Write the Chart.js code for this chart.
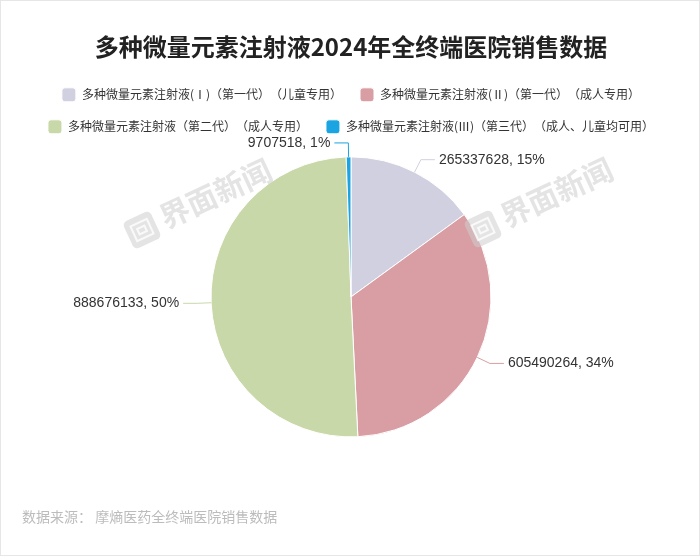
<!DOCTYPE html>
<html>
<head>
<meta charset="utf-8">
<script src="https://cdn.jsdelivr.net/npm/chart.js@4/dist/chart.umd.min.js"></script>
<style>
body { margin:0; background:#fff; }
#wrap { position:relative; width:700px; height:556px; }
canvas { text-spacing-trim: space-all; }
#frame { position:absolute; left:0; top:0; width:700px; height:556px; box-sizing:border-box; border:1px solid #e6e6e6; pointer-events:none; }
#src { position:absolute; left:22px; top:506px; font:14px "Noto Sans CJK SC", sans-serif; color:#bcbcbc; text-spacing-trim: space-all; }
</style>
</head>
<body>
<div id="wrap">
<canvas id="myChart" width="700" height="556"></canvas>
<div id="frame"></div>
<div id="src">数据来源： 摩熵医药全终端医院销售数据</div>
</div>
<script>
var titleText = '多种微量元素注射液2024年全终端医院销售数据';
var products = ['多种微量元素注射液(Ⅰ)（第一代）（儿童专用）', '多种微量元素注射液(Ⅱ)（第一代）（成人专用）', '多种微量元素注射液（第二代）（成人专用）', '多种微量元素注射液(Ⅲ)（第三代）（成人、儿童均可用）'];
var sales = [265337628, 605490264, 888676133, 9707518];
var colors = ['#d1d0e0', '#d99ea4', '#c9d8a8', '#1ba4e2'];
var cjk = '"Noto Sans CJK SC", sans-serif';

// labels with leader lines outside the pie
var sliceLabels = {
  id: 'sliceLabels',
  afterDatasetsDraw: function (chart) {
    var ctx = chart.ctx;
    var meta = chart.getDatasetMeta(0);
    var total = sales.reduce(function (a, b) { return a + b; }, 0);
    ctx.save();
    ctx.font = '14px "Liberation Sans", Arial, sans-serif';
    ctx.textBaseline = 'middle';
    meta.data.forEach(function (arc, i) {
      var p = arc.getProps(['x', 'y', 'startAngle', 'endAngle', 'outerRadius'], true);
      var a = (p.startAngle + p.endAngle) / 2;
      var c = Math.cos(a), s = Math.sin(a);
      var dir = c >= 0 ? 1 : -1;
      var x0 = p.x + p.outerRadius * c, y0 = p.y + p.outerRadius * s;
      var x1 = p.x + (p.outerRadius + 14) * c, y1 = p.y + (p.outerRadius + 14) * s;
      var x2 = x1 + dir * 14;
      ctx.strokeStyle = colors[i];
      ctx.lineWidth = 1;
      ctx.beginPath();
      ctx.moveTo(x0, y0);
      ctx.lineTo(x1, y1);
      ctx.lineTo(x2, y1);
      ctx.stroke();
      ctx.fillStyle = '#333';
      ctx.textAlign = dir > 0 ? 'left' : 'right';
      var pct = Math.round(sales[i] / total * 100);
      ctx.fillText(sales[i] + ', ' + pct + '%', x2 + dir * 4, y1);
    });
    ctx.restore();
  }
};

// faint site watermark
var watermark = {
  id: 'watermark',
  afterDraw: function (chart) {
    var ctx = chart.ctx;
    [[142, 230], [483, 229]].forEach(function (pos) {
      ctx.save();
      ctx.translate(pos[0], pos[1]);
      ctx.rotate(-25 * Math.PI / 180);
      ctx.fillStyle = 'rgba(205,205,205,0.55)';
      ctx.beginPath();
      ctx.roundRect(-15, -15, 30, 30, 5);
      ctx.fill();
      ctx.strokeStyle = 'rgba(255,255,255,0.8)';
      ctx.lineWidth = 2;
      ctx.strokeRect(-9, -8, 18, 16);
      ctx.strokeRect(-4, -3, 8, 6);
      ctx.font = 'bold 30px ' + cjk;
      ctx.textBaseline = 'middle';
      ctx.textAlign = 'left';
      ctx.fillText('界面新闻', 22, -2);
      ctx.restore();
    });
  }
};

new Chart(document.getElementById('myChart'), {
  type: 'pie',
  data: {
    labels: products,
    datasets: [{
      data: sales,
      backgroundColor: colors,
      borderColor: '#fff',
      borderWidth: 1
    }]
  },
  options: {
    responsive: false,
    animation: false,
    radius: 140,
    layout: { padding: { left: 2, bottom: 106 } },
    plugins: {
      title: {
        display: true,
        text: titleText,
        color: '#222',
        font: { family: cjk, size: 24, weight: 'bold' },
        padding: { top: 32, bottom: 9 }
      },
      legend: {
        position: 'top',
        labels: {
          color: '#333',
          font: { family: cjk, size: 12 },
          boxWidth: 14,
          boxHeight: 14,
          padding: 18,
          useBorderRadius: true,
          borderRadius: 3
        }
      },
      tooltip: { enabled: false }
    }
  },
  plugins: [sliceLabels, watermark]
});
</script>
</body>
</html>
